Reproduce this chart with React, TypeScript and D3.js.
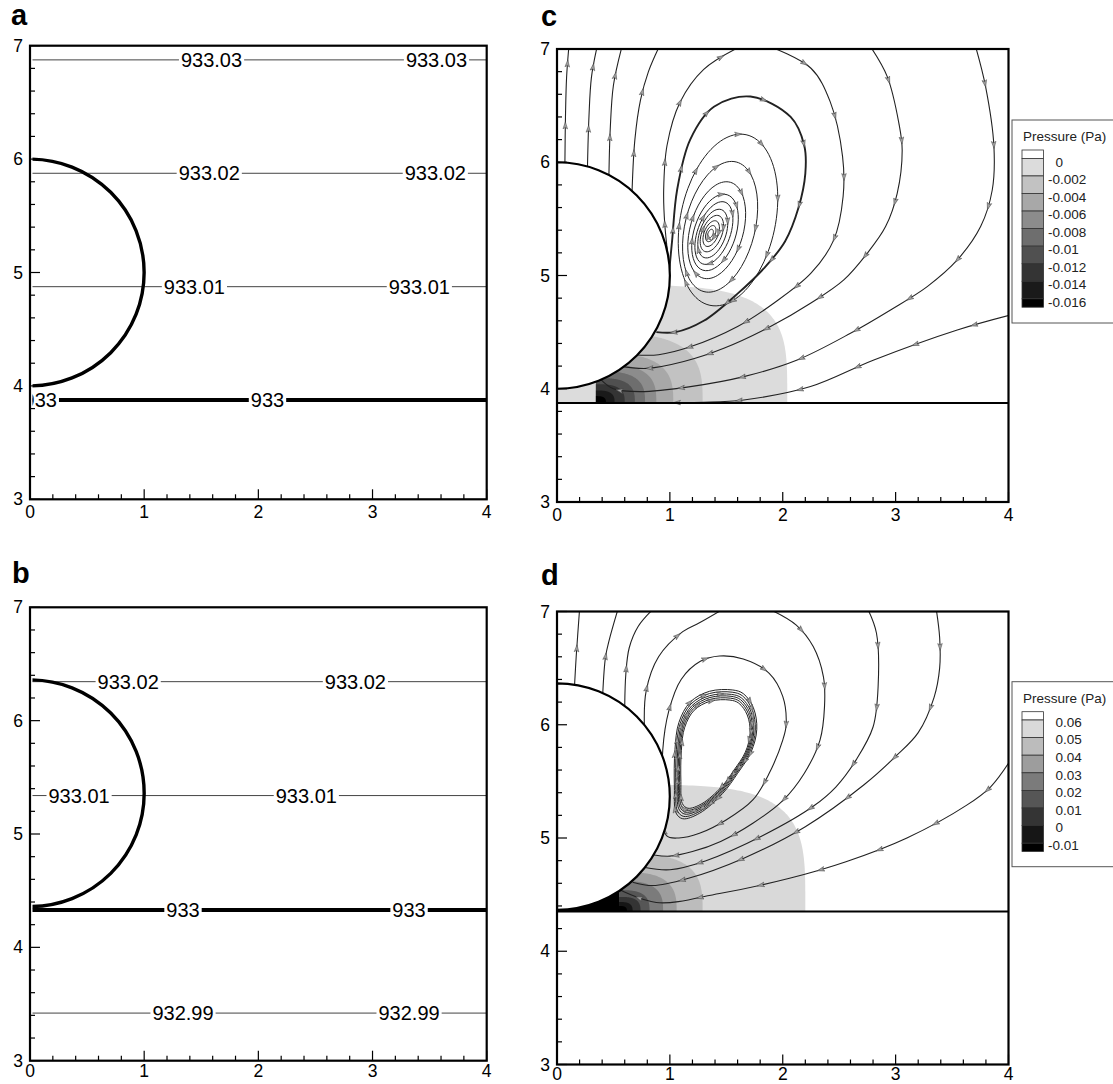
import React, { useEffect, useRef } from "react";
import * as d3 from "d3";

type Pt = [number, number];

// ---------------- data ----------------
const xTickValues = [0, 1, 2, 3, 4];
const yTickValues = [3, 4, 5, 6, 7];
const minorStep = 0.2;

const dropletCenterY: Record<string, number> = { a: 5, b: 5.36, c: 5, d: 5.366 };
const dropletRadius: Record<string, number> = { a: 1, b: 1, c: 1, d: 1 };

// panel a isobars
const isobarLevelsA = ["933.03", "933.02", "933.01", "933"];
const isobarYA = [6.875, 5.875, 4.875, 3.875];
const isobarLabelXA = [[1.59, 3.56], [1.57, 3.55], [1.44, 3.41], [0.09, 2.08]];
// panel b isobars
const isobarLevelsB = ["933.02", "933.01", "933", "932.99"];
const isobarYB = [6.344, 5.339, 4.33, 3.42];
const isobarLabelXB = [[0.86, 2.85], [0.43, 2.42], [1.34, 3.32], [1.34, 3.32]];

// walls
const wallYC = 3.875;
const wallYD = 4.35;

// legends
const legendLevelsC = ["0", "-0.002", "-0.004", "-0.006", "-0.008", "-0.01", "-0.012", "-0.014", "-0.016"];
const legendLevelsD = ["0.06", "0.05", "0.04", "0.03", "0.02", "0.01", "0", "-0.01"];
const legendGraysC = ["#ffffff", "#dcdcdc", "#c2c2c2", "#a8a8a8", "#8c8c8c", "#6e6e6e", "#505050", "#343434", "#1a1a1a", "#000000"];
const legendGraysD = ["#ffffff", "#d9d9d9", "#bcbcbc", "#9d9d9d", "#7b7b7b", "#565656", "#343434", "#161616", "#000000"];

// pressure bands (outer -> inner), centred on the wall
const bandCenterC: Pt = [0.345, 3.875];
const bandRxC = [1.695, 0.945, 0.685, 0.535, 0.435, 0.345, 0.255, 0.165, 0.089];
const bandRyC = [1.04, 0.615, 0.44, 0.345, 0.28, 0.22, 0.165, 0.11, 0.06];
const bandExpC = [4, 3.2, 3, 3, 3, 3, 3, 3, 3];
const bandLeftGrayC = 1;

const bandCenterD: Pt = [0.55, 4.35];
const bandRxD = [1.65, 0.74, 0.51, 0.39, 0.27, 0.19, 0.12, 0.07];
const bandRyD = [1.12, 0.51, 0.35, 0.27, 0.19, 0.13, 0.085, 0.05];
const bandExpD = [4, 3.2, 3, 3, 3, 3, 3, 3];
const bandLeftGrayD = 8;

// streamlines panel c (flow order)
const streamC: Pt[][] = [
  [[0.07, 5.99], [0.075, 6.4], [0.085, 6.75], [0.105, 7.02]],
  [[0.27, 5.96], [0.283, 6.4], [0.305, 6.75], [0.355, 7.02]],
  [[0.46, 5.885], [0.472, 6.3], [0.5, 6.68], [0.575, 7.02]],
  [[0.665, 5.745], [0.69, 6.2], [0.74, 6.55], [0.81, 6.8], [0.905, 7.02]],
  [[0.99, 5.12], [0.955, 5.45], [0.945, 5.75], [0.975, 6.15], [1.09, 6.53], [1.3, 6.82], [1.62, 7.02]],
  [[1.89, 7.02], [2.25, 6.83], [2.42, 6.535], [2.53, 6.05], [2.535, 5.7], [2.45, 5.31], [2.25, 5.02], [1.92, 4.755], [1.6, 4.55], [1.18, 4.37], [0.9, 4.3], [0.68, 4.3]],
  [[2.778, 7.02], [2.926, 6.756], [3.029, 6.344], [3.058, 6.109], [3.014, 5.726], [2.911, 5.432], [2.748, 5.196], [2.541, 4.961], [2.246, 4.755], [1.891, 4.549], [1.478, 4.357], [1.123, 4.24], [0.8, 4.18], [0.55, 4.2]],
  [[3.709, 7.02], [3.797, 6.668], [3.871, 6.138], [3.856, 5.755], [3.753, 5.432], [3.546, 5.137], [3.28, 4.902], [2.955, 4.696], [2.6, 4.49], [2.128, 4.254], [1.655, 4.107], [1.182, 4.019], [0.739, 3.975], [0.5, 4.0], [0.38, 4.09]],
  [[4.02, 4.652], [3.546, 4.519], [2.807, 4.254], [2.246, 4.019], [1.655, 3.901], [1.3, 3.88], [1.0, 3.878]],
];
const separatrixC: Pt[] = [[0.995, 5.05], [1.02, 5.31], [1.064, 5.755], [1.18, 6.2], [1.39, 6.49], [1.714, 6.58], [2.07, 6.4], [2.19, 6.15], [2.2, 5.9], [2.14, 5.6], [2.02, 5.3], [1.83, 5.06], [1.6, 4.84], [1.3, 4.6], [1.05, 4.5], [0.88, 4.5]];
// vortex loops panel c: [cx, cy, semi-axis along tilt, semi-axis across, tilt deg]
const vortexLoopsC = [
  [1.515, 5.49, 0.77, 0.42, 12],
  [1.445, 5.43, 0.59, 0.31, 14],
  [1.415, 5.40, 0.44, 0.235, 16],
  [1.40, 5.38, 0.35, 0.185, 18],
  [1.39, 5.375, 0.29, 0.145, 20],
  [1.38, 5.37, 0.225, 0.115, 20],
  [1.372, 5.37, 0.17, 0.088, 22],
  [1.366, 5.37, 0.12, 0.062, 22],
  [1.362, 5.37, 0.075, 0.04, 22],
  [1.36, 5.37, 0.04, 0.022, 22],
];

// streamlines panel d
const streamD: Pt[][] = [
  [[0.155, 6.34], [0.17, 6.6], [0.2, 7.02]],
  [[0.405, 6.27], [0.43, 6.6], [0.463, 6.75], [0.54, 7.02]],
  [[0.6, 6.16], [0.61, 6.45], [0.64, 6.68], [0.72, 6.87], [0.85, 7.02]],
  [[0.774, 5.99], [0.79, 6.3], [0.9, 6.6], [1.114, 6.822], [1.262, 6.9], [1.47, 7.02]],
  [[1.883, 7.02], [2.12, 6.88], [2.27, 6.69], [2.36, 6.425], [2.37, 6.16], [2.33, 5.865], [2.19, 5.57], [2.0, 5.33], [1.735, 5.13], [1.45, 4.97], [1.2, 4.88], [1.0, 4.84], [0.86, 4.85]],
  [[2.754, 7.02], [2.83, 6.81], [2.845, 6.34], [2.8, 5.98], [2.65, 5.69], [2.47, 5.45], [2.27, 5.28], [1.82, 5.02], [1.32, 4.8], [1.0, 4.72], [0.78, 4.74]],
  [[3.36, 7.02], [3.39, 6.77], [3.39, 6.5], [3.34, 6.24], [3.2, 5.93], [3.0, 5.72], [2.72, 5.47], [2.2, 5.1], [1.65, 4.82], [1.15, 4.64], [0.85, 4.58], [0.67, 4.61]],
  [[4.02, 5.69], [3.84, 5.45], [3.63, 5.29], [3.1, 5.0], [2.56, 4.79], [2.06, 4.644], [1.44, 4.51], [0.88, 4.43], [0.52, 4.56]],
];
const outerLoopD: Pt[] = [[0.97, 5.02], [0.94, 5.35], [0.937, 5.777], [0.99, 6.12], [1.1, 6.4], [1.27, 6.56], [1.44, 6.607], [1.65, 6.58], [1.88, 6.454], [2.0, 6.25], [2.03, 6.0], [2.0, 5.865], [1.88, 5.571], [1.735, 5.336], [1.498, 5.159], [1.262, 5.041], [1.08, 5.0]];
const teardropD: Pt[] = [[1.557, 6.307], [1.65, 6.275], [1.74, 6.15], [1.77, 5.96], [1.72, 5.76], [1.6, 5.571], [1.468, 5.394], [1.262, 5.218], [1.114, 5.17], [1.055, 5.22], [1.04, 5.45], [1.045, 5.78], [1.08, 6.02], [1.18, 6.2], [1.35, 6.295]];
const teardropCentreD: Pt = [1.4, 5.75];
const teardropScalesD = [1, 0.965, 0.93, 0.9, 0.87, 0.84];

// ---------------- layout / style ----------------
const W = 1113, H = 1084;
const FONT = "'Liberation Sans', Arial, Helvetica, sans-serif";
const layout: Record<string, { left: number; right: number; top: number; bottom: number; letter: [number, number]; xlab: number }> = {
  a: { left: 30, right: 486.7, top: 45.7, bottom: 499.3, letter: [11, 25], xlab: 18.5 },
  b: { left: 30, right: 486.7, top: 607.3, bottom: 1060.7, letter: [12, 583], xlab: 16.5 },
  c: { left: 557, right: 1008.5, top: 49, bottom: 502, letter: [541, 26], xlab: 18.5 },
  d: { left: 557, right: 1008.5, top: 611.5, bottom: 1064.5, letter: [541, 585], xlab: 15 },
};
const legendBoxC = { x: 1012, y: 120, h: 203, title: 141, boxTop: 150, half: 8.4, full: 17.55, lab: 3.4 };
const legendBoxD = { x: 1012, y: 681.7, h: 185, title: 703, boxTop: 711.7, half: 8.3, full: 17.6, lab: 2 };

function scales(id: string) {
  const p = layout[id];
  const x = d3.scaleLinear().domain([0, 4]).range([p.left, p.right]);
  const y = d3.scaleLinear().domain([3, 7]).range([p.bottom, p.top]);
  return { x, y, p };
}

function drawAxes(svg: any, id: string) {
  const { x, y, p } = scales(id);
  const g = svg.append("g");
  d3.range(0, 4 + 1e-6, minorStep).forEach((v) => {
    const major = Math.abs(v - Math.round(v)) < 1e-6;
    g.append("line").attr("x1", x(v)).attr("x2", x(v)).attr("y1", p.bottom).attr("y2", p.bottom - (major ? 10 : 5)).attr("stroke", "#000").attr("stroke-width", 1.2);
  });
  d3.range(3, 7 + 1e-6, minorStep).forEach((v) => {
    const major = Math.abs(v - Math.round(v)) < 1e-6;
    g.append("line").attr("y1", y(v)).attr("y2", y(v)).attr("x1", p.left).attr("x2", p.left + (major ? 10 : 5)).attr("stroke", "#000").attr("stroke-width", 1.2);
  });
  g.append("rect").attr("x", p.left).attr("y", p.top).attr("width", p.right - p.left).attr("height", p.bottom - p.top).attr("fill", "none").attr("stroke", "#000").attr("stroke-width", 2.2);
  xTickValues.forEach((v) => {
    g.append("text").attr("x", x(v)).attr("y", p.bottom + p.xlab).attr("text-anchor", "middle").attr("font-family", FONT).attr("font-size", 17.5).text(String(v));
  });
  yTickValues.forEach((v) => {
    g.append("text").attr("x", p.left - 7).attr("y", y(v) + 6).attr("text-anchor", "end").attr("font-family", FONT).attr("font-size", 17.5).text(String(v));
  });
  g.append("text").attr("x", p.letter[0]).attr("y", p.letter[1]).attr("font-family", FONT).attr("font-weight", "bold").attr("font-size", 29).text(id);
}

function dropletPath(id: string, close: boolean) {
  const { x, y } = scales(id);
  const cy = dropletCenterY[id], r = dropletRadius[id];
  const rx = x(r) - x(0), ry = y(0) - y(r);
  return `M${x(0)},${y(cy + r)} A${rx},${ry} 0 0 1 ${x(0)},${y(cy - r)}` + (close ? "Z" : "");
}

function drawIsobarPanel(svg: any, defs: any, id: string, levels: string[], ys: number[], labelXs: number[][]) {
  const { x, y, p } = scales(id);
  defs.append("clipPath").attr("id", "clip-" + id).append("rect").attr("x", p.left + 2.5).attr("y", p.top).attr("width", p.right - p.left - 2.5).attr("height", p.bottom - p.top);
  const g = svg.append("g").attr("clip-path", `url(#clip-${id})`);
  levels.forEach((lev, i) => {
    const thick = lev === "933";
    g.append("line").attr("x1", x(0)).attr("x2", x(4)).attr("y1", y(ys[i])).attr("y2", y(ys[i])).attr("stroke", thick ? "#000" : "#444").attr("stroke-width", thick ? 4 : 1);
  });
  g.append("path").attr("d", dropletPath(id, false)).attr("fill", "none").attr("stroke", "#000").attr("stroke-width", 3.4);
  levels.forEach((lev, i) => {
    labelXs[i].forEach((lx) => {
      const t = g.append("text").attr("x", x(lx)).attr("y", y(ys[i]) + 7).attr("text-anchor", "middle").attr("font-family", FONT).attr("font-size", 20).text(lev);
      const w = (t.node() as SVGTextElement).getComputedTextLength();
      g.insert("rect", () => t.node()).attr("x", x(lx) - w / 2 - 2).attr("y", y(ys[i]) - 9).attr("width", w + 4).attr("height", 18).attr("fill", "#fff");
    });
  });
}

function addArrows(g: any, node: SVGPathElement, spacing: number, offset: number) {
  const L = node.getTotalLength();
  for (let s = offset; s < L - 6; s += spacing) {
    const a = node.getPointAtLength(s);
    const b = node.getPointAtLength(Math.min(L, s + 2));
    const ang = (Math.atan2(b.y - a.y, b.x - a.x) * 180) / Math.PI;
    g.append("path").attr("d", "M3.5,0 L-3.5,-2.3 L-2,0 L-3.5,2.3 Z").attr("transform", `translate(${a.x},${a.y}) rotate(${ang})`).attr("fill", "#a0a0a0").attr("stroke", "#444").attr("stroke-width", 0.5);
  }
}

function drawFlowPanel(svg: any, defs: any, id: string, opts: any) {
  const { x, y, p } = scales(id);
  defs.append("clipPath").attr("id", "clip-" + id).append("rect").attr("x", p.left).attr("y", p.top).attr("width", p.right - p.left).attr("height", p.bottom - p.top);
  defs.append("clipPath").attr("id", "band-" + id).append("rect").attr("x", x(opts.bandCenter[0])).attr("y", p.top).attr("width", p.right - x(opts.bandCenter[0])).attr("height", y(opts.wallY) - p.top);
  const g = svg.append("g").attr("clip-path", `url(#clip-${id})`);
  g.append("rect").attr("x", x(0)).attr("y", y(opts.wallY + 0.5)).attr("width", x(opts.bandCenter[0]) - x(0)).attr("height", y(opts.wallY) - y(opts.wallY + 0.5)).attr("fill", opts.grays[opts.leftGray]);
  const gb = g.append("g").attr("clip-path", `url(#band-${id})`);
  opts.bandRx.forEach((rx: number, i: number) => {
    const ry = opts.bandRy[i], n = opts.bandExp[i];
    const [cx, cy] = opts.bandCenter;
    const pts = d3.range(0, 181).map((k) => {
      const t = (k / 180) * Math.PI;
      const c = Math.cos(t), s = Math.sin(t);
      return [x(cx + rx * Math.sign(c) * Math.pow(Math.abs(c), 2 / n)), y(cy + ry * Math.pow(Math.abs(s), 2 / n))];
    });
    gb.append("path").attr("d", "M" + pts.map((q) => q.join(",")).join("L") + "Z").attr("fill", opts.grays[i + 1]);
  });
  const openGen = d3.line<Pt>().x((d) => x(d[0])).y((d) => y(d[1])).curve(d3.curveCatmullRom.alpha(0.5));
  const closedGen = d3.line<Pt>().x((d) => x(d[0])).y((d) => y(d[1])).curve(d3.curveCatmullRomClosed.alpha(0.5));
  const gs = g.append("g");
  const ga = g.append("g");
  const draw = (d: string, width: number, spacing: number, offset: number) => {
    const path = gs.append("path").attr("d", d).attr("fill", "none").attr("stroke", "#222").attr("stroke-width", width);
    addArrows(ga, path.node() as SVGPathElement, spacing, offset);
  };
  opts.lines.forEach((ln: Pt[]) => draw(openGen(ln) as string, 1.1, 62, 38));
  if (opts.separatrix) draw(openGen(opts.separatrix) as string, 1.9, 62, 40);
  if (opts.outerLoop) draw(closedGen(opts.outerLoop) as string, 1.1, 62, 30);
  (opts.ellipses || []).forEach((e: number[]) => {
    const [cx, cy, a, b, tilt] = e;
    const tr = (tilt * Math.PI) / 180;
    const pts: Pt[] = d3.range(0, 48).map((k) => {
      const th = Math.PI / 2 - (2 * Math.PI * k) / 48;
      const u = b * Math.cos(th), v = a * Math.sin(th);
      return [cx + u * Math.cos(tr) + v * Math.sin(tr), cy - u * Math.sin(tr) + v * Math.cos(tr)];
    });
    draw(closedGen(pts) as string, 1, 58, 12);
  });
  (opts.teardropScales || []).forEach((s: number, k: number) => {
    const [mx, my] = opts.teardropCentre;
    const pts: Pt[] = opts.teardrop.map((q: Pt) => [mx + s * (q[0] - mx), my + s * (q[1] - my)]);
    draw(closedGen(pts) as string, 1, 55, 10 + k * 6);
  });
  g.append("path").attr("d", dropletPath(id, true)).attr("fill", "#fff").attr("stroke", "#000").attr("stroke-width", 2.2);
  g.append("line").attr("x1", x(0)).attr("x2", x(4)).attr("y1", y(opts.wallY)).attr("y2", y(opts.wallY)).attr("stroke", "#000").attr("stroke-width", 2);
}

function drawLegend(svg: any, box: any, grays: string[], labels: string[]) {
  const g = svg.append("g");
  g.append("rect").attr("x", box.x).attr("y", box.y).attr("width", 130).attr("height", box.h).attr("fill", "#fff").attr("stroke", "#555").attr("stroke-width", 1);
  g.append("text").attr("x", box.x + 11).attr("y", box.title).attr("font-family", FONT).attr("font-size", 13.5).attr("fill", "#222").text("Pressure (Pa)");
  const n = grays.length;
  grays.forEach((c, i) => {
    let top: number, h: number;
    if (i === 0) { top = box.boxTop; h = box.half; }
    else if (i === n - 1) { top = box.boxTop + box.half + (n - 2) * box.full; h = box.half; }
    else { top = box.boxTop + box.half + (i - 1) * box.full; h = box.full; }
    g.append("rect").attr("x", box.x + 10).attr("y", top).attr("width", 21.6).attr("height", h).attr("fill", c).attr("stroke", "#333").attr("stroke-width", 0.8);
  });
  labels.forEach((lab, i) => {
    const cy = box.boxTop + box.half + i * box.full + box.lab;
    const neg = lab.startsWith("-");
    g.append("text").attr("x", box.x + 36 + (neg ? 0 : 7.6)).attr("y", cy + 4.8).attr("font-family", FONT).attr("font-size", 13.5).attr("fill", "#222").text(lab);
  });
}

export default function App() {
  const ref = useRef<SVGSVGElement>(null);
  useEffect(() => {
    const svg = d3.select(ref.current);
    svg.selectAll("*").remove();
    svg.append("rect").attr("width", W).attr("height", H).attr("fill", "#fff");
    const defs = svg.append("defs");
    drawIsobarPanel(svg, defs, "a", isobarLevelsA, isobarYA, isobarLabelXA);
    drawIsobarPanel(svg, defs, "b", isobarLevelsB, isobarYB, isobarLabelXB);
    drawFlowPanel(svg, defs, "c", {
      wallY: wallYC, bandCenter: bandCenterC, bandRx: bandRxC, bandRy: bandRyC, bandExp: bandExpC,
      grays: legendGraysC, leftGray: bandLeftGrayC, lines: streamC, separatrix: separatrixC, ellipses: vortexLoopsC,
    });
    drawFlowPanel(svg, defs, "d", {
      wallY: wallYD, bandCenter: bandCenterD, bandRx: bandRxD, bandRy: bandRyD, bandExp: bandExpD,
      grays: legendGraysD, leftGray: bandLeftGrayD, lines: streamD, outerLoop: outerLoopD,
      teardrop: teardropD, teardropCentre: teardropCentreD, teardropScales: teardropScalesD,
    });
    ["a", "b", "c", "d"].forEach((id) => drawAxes(svg, id));
    drawLegend(svg, legendBoxC, legendGraysC, legendLevelsC);
    drawLegend(svg, legendBoxD, legendGraysD, legendLevelsD);
  }, []);
  return <svg ref={ref} width={W} height={H} style={{ position: "absolute", left: 0, top: 0, display: "block" }} />;
}
